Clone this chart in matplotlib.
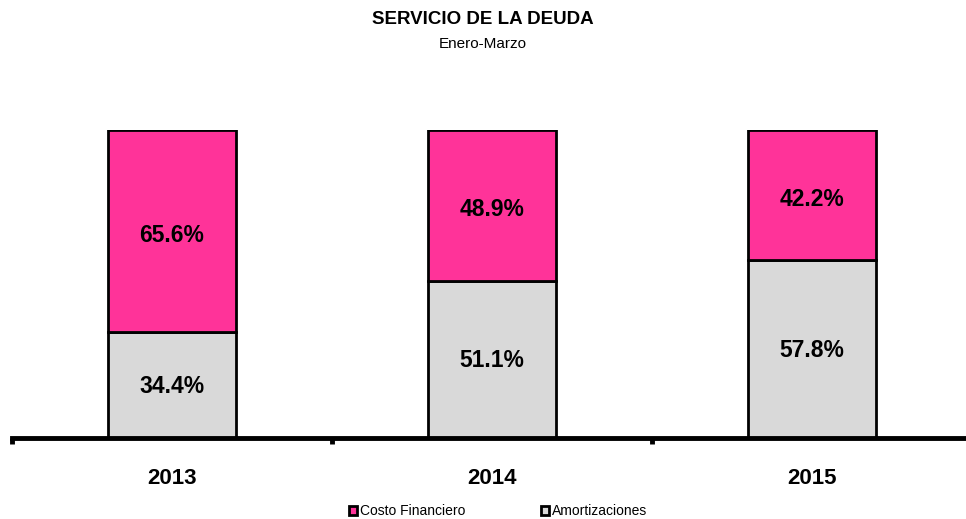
import matplotlib
matplotlib.use("Agg")
import matplotlib.pyplot as plt
from matplotlib.patches import Patch
from matplotlib.ticker import FixedLocator
from matplotlib.transforms import blended_transform_factory

plt.rcParams['font.family'] = ['Liberation Sans', 'DejaVu Sans']

years = ["2013", "2014", "2015"]
amortizaciones = [34.4, 51.1, 57.8]
costo_financiero = [65.6, 48.9, 42.2]

pink = "#FF3399"
gray = "#D9D9D9"

W, H = 966, 519
fig = plt.figure(figsize=(W / 100, H / 100), dpi=100)
# axes: x from 12 px, width 960 px; y bottom 438 px, top 130 px
ax = fig.add_axes([12 / W, (H - 438) / H, 960 / W, 308 / H])

x = list(range(len(years)))
bw = 0.4
ax.bar(x, amortizaciones, width=bw, color=gray, edgecolor="black", linewidth=2, zorder=2)
ax.bar(x, costo_financiero, width=bw, bottom=amortizaciones, color=pink,
       edgecolor="black", linewidth=2, zorder=2)

for i in x:
    ax.text(i, amortizaciones[i] / 2 + 0.3, f"{amortizaciones[i]:.1f}%", ha="center",
            va="center_baseline", fontsize=16.5, fontweight="bold")
    ax.text(i, amortizaciones[i] + costo_financiero[i] / 2 - 0.6, f"{costo_financiero[i]:.1f}%",
            ha="center", va="center_baseline", fontsize=16.5, fontweight="bold")

ax.set_xlim(-0.5, 2.5)
ax.set_ylim(0, 100)
for s in ["top", "right", "left"]:
    ax.spines[s].set_visible(False)
ax.spines["bottom"].set_linewidth(3.5)
ax.spines["bottom"].set_zorder(3)
ax.set_yticks([])
ax.set_xticks(x)
ax.set_xticklabels([])
ax.tick_params(axis="x", which="major", length=0)
ax.xaxis.set_minor_locator(FixedLocator([-0.5, 0.5, 1.5, 2.5]))
ax.tick_params(axis="x", which="minor", length=4, width=3.5, direction="out")

trans = blended_transform_factory(ax.transData, fig.transFigure)
for i, yr in enumerate(years):
    ax.text(i, 1 - 475.5 / H, yr, transform=trans, ha="center", va="center_baseline",
            fontsize=16, fontweight="bold")

fig.text(483 / W, 1 - 18 / H, "SERVICIO DE LA DEUDA", ha="center", va="center_baseline",
         fontsize=13.5, fontweight="bold")
fig.text(483 / W, 1 - 42 / H, "Enero-Marzo", ha="center", va="center_baseline", fontsize=11)

handles = [Patch(facecolor=pink, edgecolor="black", linewidth=2, label="Costo Financiero"),
           Patch(facecolor=gray, edgecolor="black", linewidth=2, label="Amortizaciones")]
fig.legend(handles=handles, loc="center", bbox_to_anchor=(498 / W, 1 - 511 / H), ncol=2,
           frameon=False, fontsize=10, handlelength=0.6, handleheight=0.6, handletextpad=0.2,
           columnspacing=5.4, borderpad=0, borderaxespad=0)

fig.savefig("out.png", dpi=100)
